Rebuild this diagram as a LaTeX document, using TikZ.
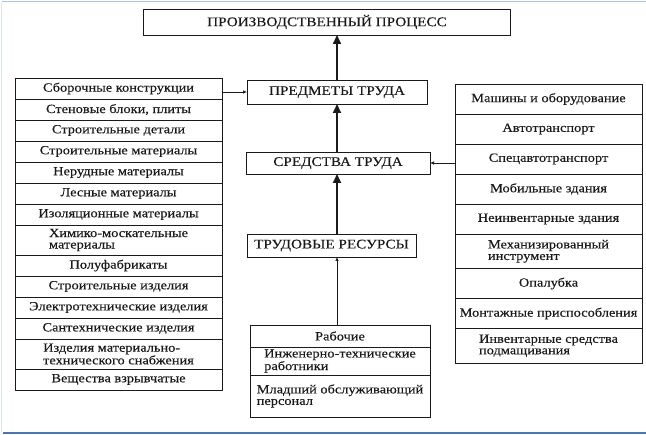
\documentclass[tikz,border=0pt]{standalone}
\usepackage{fontspec}
\setmainfont[FakeStretch=1.15, FakeBold=0.3]{Liberation Serif}
\usepackage{tikz}
\usetikzlibrary{arrows.meta, positioning}
\definecolor{frametop}{HTML}{A9C4E6}
\definecolor{frameleft}{HTML}{DDE7F3}
\definecolor{framebot}{HTML}{4A78AE}
\definecolor{scanink}{HTML}{1A1A1A}
\tikzset{
  capbox/.style={draw=scanink, outer sep=0pt, inner sep=1pt, line width=0.7pt,
    font=\fontsize{13.2pt}{12pt}\selectfont, text=scanink},
  lrow/.style={draw=scanink, outer sep=0pt, inner sep=1pt, line width=0.6pt, align=center,
    minimum width=207pt, minimum height=21pt, font=\fontsize{12.5pt}{11.5pt}\selectfont, text=scanink},
  lrowtwo/.style={lrow, align=left, minimum height=30pt},
  rrow/.style={lrow, minimum width=187pt, minimum height=30pt},
  rrowtwo/.style={rrow, align=left, minimum height=34.5pt},
  brow/.style={lrow, minimum width=180pt},
  bigflow/.style={-{Triangle[length=9pt, width=8pt]}, draw=scanink, line width=1.7pt},
  flow/.style={-{Latex[length=4pt, width=3.5pt]}, draw=scanink, line width=0.6pt}
}
\begin{document}
\begin{tikzpicture}[x=1pt, y=-1pt]
\useasboundingbox (0,0) rectangle (646,435);
\draw[frametop, line width=1.5pt] (2,1.5) -- (646,1.5);
\draw[frameleft, line width=1pt] (1.5,2) -- (1.5,432);
\draw[framebot, line width=2pt] (3,433.5) -- (646,433.5);
% central chain
\node[capbox, minimum width=367pt, minimum height=26pt] (prod) at (327,22) {ПРОИЗВОДСТВЕННЫЙ ПРОЦЕСС};
\node[capbox, minimum width=180pt, minimum height=24pt] (pred) at (337,92) {ПРЕДМЕТЫ ТРУДА};
\node[capbox, minimum width=184pt, minimum height=22pt] (sred) at (338,163) {СРЕДСТВА ТРУДА};
\node[capbox, minimum width=169pt, minimum height=23pt] (trud) at (331.5,245.5) {ТРУДОВЫЕ РЕСУРСЫ};
% left column
\node[lrow, anchor=north west] (sbor) at (15,78) {Сборочные конструкции};
\node[lrow, below=0pt of sbor] (sten) {Стеновые блоки, плиты};
\node[lrow, below=0pt of sten] (sdet) {Строительные детали};
\node[lrow, below=0pt of sdet] (smat) {Строительные материалы};
\node[lrow, below=0pt of smat] (nerud) {Нерудные материалы};
\node[lrow, below=0pt of nerud] (les) {Лесные материалы};
\node[lrow, below=0pt of les] (izol) {Изоляционные материалы};
\node[lrowtwo, below=0pt of izol] (khim) {Химико-москательные\\материалы};
\node[lrow, below=0pt of khim] (polu) {Полуфабрикаты};
\node[lrow, below=0pt of polu] (sizd) {Строительные изделия};
\node[lrow, below=0pt of sizd] (elek) {Электротехнические изделия};
\node[lrow, below=0pt of elek] (sant) {Сантехнические изделия};
\node[lrowtwo, below=0pt of sant] (mts) {Изделия материально-\\технического снабжения};
\node[lrow, below=0pt of mts] (vzr) {Вещества взрывчатые};
% right column
\node[rrow, anchor=north west] (mash) at (455,84) {Машины и оборудование};
\node[rrow, below=0pt of mash] (avto) {Автотранспорт};
\node[rrow, below=0pt of avto] (spec) {Спецавтотранспорт};
\node[rrow, below=0pt of spec] (mob) {Мобильные здания};
\node[rrow, below=0pt of mob] (neinv) {Неинвентарные здания};
\node[rrowtwo, below=0pt of neinv] (mekh) {Механизированный\\инструмент};
\node[rrow, below=0pt of mekh] (opal) {Опалубка};
\node[rrow, below=0pt of opal] (mont) {Монтажные приспособления};
\node[rrowtwo, below=0pt of mont] (podm) {Инвентарные средства\\подмащивания};
% staff
\node[brow, anchor=north, minimum height=22pt] (rab) at (340,325) {Рабочие};
\node[brow, align=left, minimum height=28pt, below=0pt of rab] (inzh) {Инженерно-технические\\работники};
\node[brow, align=left, minimum height=42pt, below=0pt of inzh] (mlad) {Младший обслуживающий\\персонал};
% connectors
\draw[bigflow] (pred.north) -- (pred.north |- prod.south);
\draw[bigflow] (pred.south |- sred.north) -- (pred.south);
\draw[bigflow] (pred.south |- trud.north) -- (pred.south |- sred.south);
\draw[flow] (pred.south |- rab.north) -- (pred.south |- trud.south);
\draw[flow] (pred.west -| sbor.east) -- (pred.west);
\draw[flow] (sred.east -| spec.west) -- (sred.east);
\end{tikzpicture}
\end{document}
